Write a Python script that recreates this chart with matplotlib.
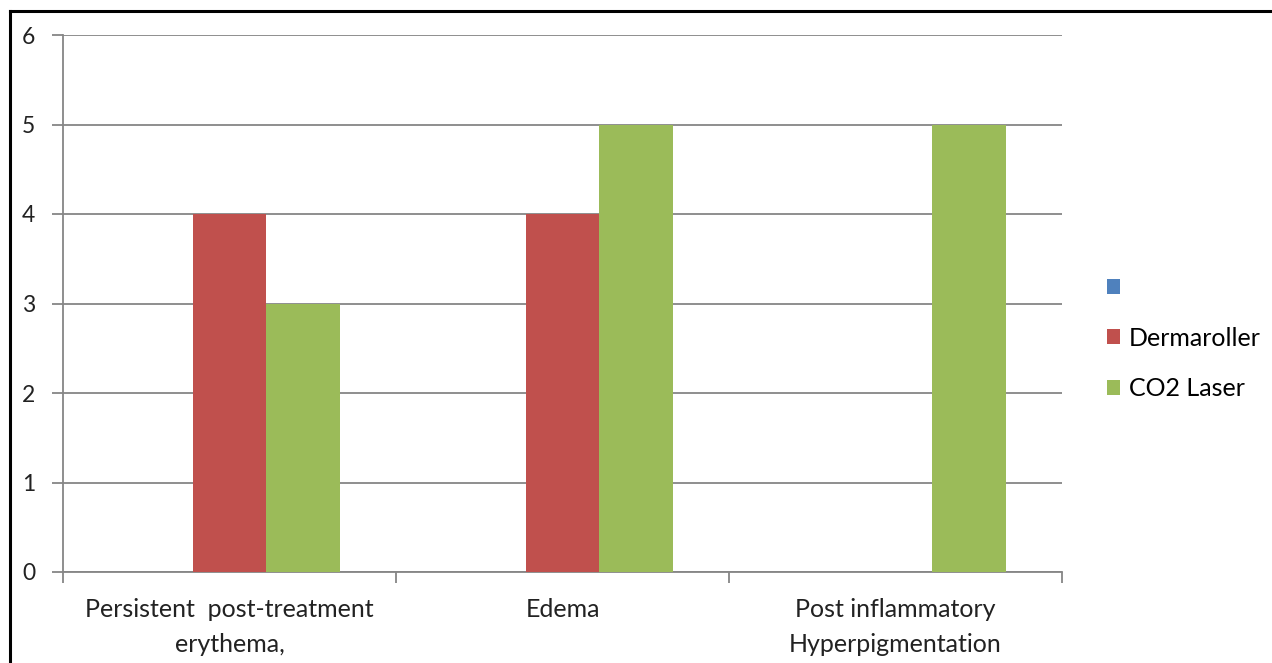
import numpy as np
import matplotlib.pyplot as plt
from matplotlib.patches import Patch
from matplotlib.lines import Line2D

plt.rcParams['font.family'] = ['Lato', 'DejaVu Sans']

# --- Data ---
categories = ["Persistent  post-treatment\nerythema,", "Edema", "Post inflammatory\nHyperpigmentation"]
series_names = [" ", "Dermaroller", "CO2 Laser"]
blank_vals = [0, 0, 0]
dermaroller_vals = [4, 4, 0]
co2_vals = [3, 5, 5]
colors = ["#4F81BD", "#C0504D", "#9BBB59"]
y_ticks = [0, 1, 2, 3, 4, 5, 6]

fig = plt.figure(figsize=(12.72, 6.63), dpi=100)
ax = fig.add_axes([63 / 1272, 1 - 572 / 663, (1062 - 63) / 1272, (572 - 35) / 663])

x = np.arange(len(categories))
w = 0.222
for i, vals in enumerate([blank_vals, dermaroller_vals, co2_vals]):
    ax.bar(x + (i - 1) * w, vals, width=w, color=colors[i], zorder=3)

ax.set_xlim(-0.5, len(categories) - 0.5)
ax.set_ylim(0, 6)
ax.set_yticks(y_ticks)
ax.set_yticklabels([str(t) for t in y_ticks], fontsize=16.5)
ax.yaxis.grid(True, color="#868686", linewidth=1.3, zorder=0)

# category labels centred, ticks at category boundaries
ax.set_xticks(x)
ax.set_xticklabels(categories, fontsize=18, color="#222222", linespacing=1.6)
ax.tick_params(axis='x', length=0, pad=19)
ax.set_xticks(np.arange(-0.5, len(categories)), minor=True)
ax.tick_params(axis='x', which='minor', length=8, color="#868686", width=1.3)
ax.tick_params(axis='y', length=8, color="#868686", width=1.3, pad=12, labelcolor="#222222")

for side in ['top', 'right']:
    ax.spines[side].set_visible(False)
for side in ['left', 'bottom']:
    ax.spines[side].set_color("#868686")
    ax.spines[side].set_linewidth(1.3)

handles = [Patch(facecolor=c) for c in colors]
fig.legend(handles, series_names, loc='center left', bbox_to_anchor=(1084 / 1272, 1 - 338 / 663),
           frameon=False, fontsize=18, handlelength=0.55, handleheight=0.55,
           handletextpad=0.35, labelspacing=1.1)

# outer border (top and left only visible)
fig.add_artist(Line2D([9.5 / 1272, 1.0], [1 - 11 / 663, 1 - 11 / 663], color='black', linewidth=2.2))
fig.add_artist(Line2D([9.5 / 1272, 9.5 / 1272], [0, 1 - 11 / 663], color='black', linewidth=2.2))

fig.savefig("out.png", dpi=100)
